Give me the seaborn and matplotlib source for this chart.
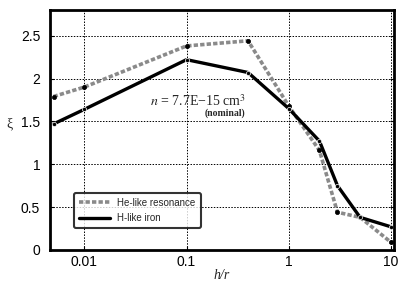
import matplotlib
matplotlib.use("Agg")
import matplotlib.pyplot as plt
import seaborn as sns
import pandas as pd

# values
h_over_r = [0.005, 0.01, 0.1, 0.4, 1.0, 2.0, 3.0, 5.0, 10.0]
he_like = [1.79, 1.90, 2.38, 2.44, 1.68, 1.16, 0.44, 0.38, 0.09]
h_like = [1.47, 1.64, 2.22, 2.07, 1.65, 1.27, 0.75, 0.38, 0.27]
x_ticks = [0.01, 0.1, 1, 10]
x_tick_labels = ["0.01", "0.1", "1", "10"]
y_ticks = [0, 0.5, 1, 1.5, 2, 2.5]
y_tick_labels = ["0", "0.5", "1", "1.5", "2", "2.5"]

df = pd.DataFrame({"h/r": h_over_r, "He-like resonance": he_like, "H-like iron": h_like})

sns.set_style("ticks")
plt.rcParams["font.family"] = ["Liberation Sans", "DejaVu Sans"]
plt.rcParams["mathtext.fontset"] = "stix"

fig = plt.figure(figsize=(4.09, 2.84), dpi=100)
ax = fig.add_axes([0.122, 0.12, 0.841, 0.845])

sns.lineplot(data=df, x="h/r", y="He-like resonance", ax=ax, color="#8a8a8a",
             linewidth=2.6, linestyle=(0, (1.2, 0.6)), marker="o", markersize=3,
             markerfacecolor="black", markeredgecolor="black", markeredgewidth=0.5,
             label="He-like resonance")
sns.lineplot(data=df, x="h/r", y="H-like iron", ax=ax, color="black",
             linewidth=2.4, marker="o", markersize=3, markeredgewidth=0.5,
             label="H-like iron")

ax.set_xscale("log")
ax.set_xlim(0.0046, 10.7)
ax.set_ylim(0, 2.8)
ax.set_xticks(x_ticks)
ax.set_xticklabels(x_tick_labels)
ax.set_yticks(y_ticks)
ax.set_yticklabels(y_tick_labels)
ax.minorticks_off()
ax.grid(True, color="black", linestyle=(0, (1.5, 1.5)), linewidth=0.7)
ax.tick_params(axis="both", direction="in", length=3, labelsize=10, right=True,
               color="black", labelcolor="black")
ax.tick_params(axis="x", pad=4)
ax.tick_params(axis="y", pad=7)
for s in ax.spines.values():
    s.set_linewidth(2)
    s.set_color("black")
    s.set_visible(True)

ax.set_xlabel("h/r", fontsize=10, family="Liberation Serif", style="italic", labelpad=0)
ax.set_ylabel("ξ", fontsize=10, family="Liberation Serif", rotation=0, labelpad=8)

ax.text(0.13, 1.74, "$n$ = 7.7E\u221215 cm$^3$", ha="center", va="center",
        fontsize=10, family="Liberation Serif")
ax.text(0.24, 1.59, "(nominal)", ha="center", va="center", fontsize=7,
        family="Liberation Serif", fontweight="bold")

leg = ax.legend(loc="lower left", bbox_to_anchor=(0.055, 0.07), fontsize=7,
                frameon=True, fancybox=True, edgecolor="black", handlelength=3.2,
                borderpad=0.5, labelspacing=0.6)
leg.get_frame().set_linewidth(1.5)
for line in leg.get_lines():
    line.set_marker("")

fig.savefig("out.png", dpi=100)
